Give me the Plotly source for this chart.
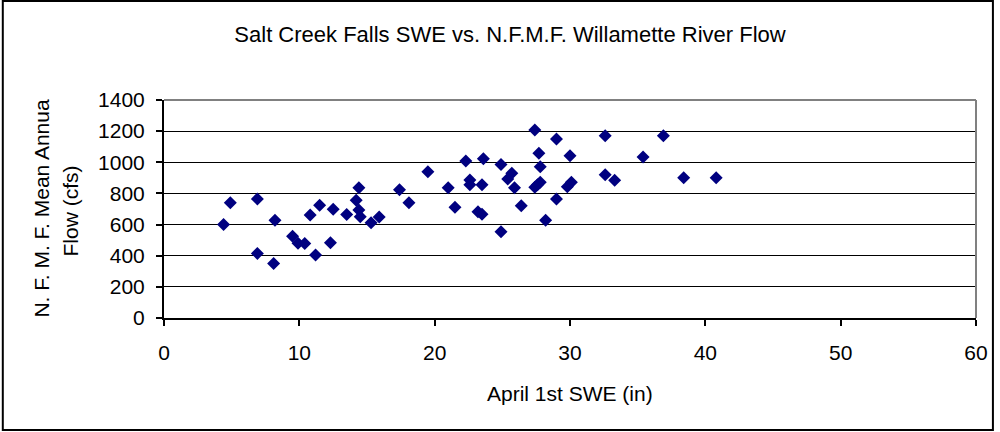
import plotly.graph_objects as go

# April 1st SWE (in) at Salt Creek Falls
swe = [4.4, 4.9, 6.9, 6.9, 8.2, 8.1, 9.5, 9.9, 10.4, 10.8, 11.2, 11.5, 12.3, 12.5,
       13.5, 14.2, 14.4, 14.4, 14.5, 15.3, 15.9, 17.4, 18.1, 19.5, 21.0, 21.5,
       22.3, 22.6, 22.6, 23.5, 23.6, 23.2, 23.5, 24.9, 24.9, 25.7, 25.4, 25.9,
       26.4, 27.4, 27.7, 27.8, 27.4, 27.8, 27.6, 28.2, 29.0, 29.0, 30.0, 29.8,
       30.1, 32.6, 32.6, 33.3, 35.4, 36.9, 38.4, 40.8]
# N.F.M.F. mean annual flow (cfs)
flow = [600, 740, 765, 415, 627, 350, 525, 480, 478, 662, 405, 724, 484, 698,
        664, 756, 837, 694, 650, 612, 648, 824, 740, 940, 837, 711,
        1008, 886, 856, 856, 1022, 683, 666, 985, 554, 930, 893, 837,
        721, 1207, 1058, 972, 839, 871, 855, 627, 1150, 764, 1042, 843,
        871, 1170, 920, 884, 1034, 1170, 901, 901]

x_ticks = [0, 10, 20, 30, 40, 50, 60]
y_ticks = [0, 200, 400, 600, 800, 1000, 1200, 1400]

W, H = 1000, 432
L, R, T, B = 164, 980, 100, 318
pw, ph = R - L, B - T


def px(x):
    return (x - L) / pw


def py(y):
    return (B - y) / ph


font = "Liberation Sans, Arial, sans-serif"

fig = go.Figure(go.Scatter(
    x=swe, y=flow, mode="markers",
    marker=dict(symbol="diamond", size=10, color="#000080",
                line=dict(width=0)),
    cliponaxis=False,
))

fig.update_layout(
    width=W, height=H,
    margin=dict(l=L, r=W - R, t=T, b=H - B),
    paper_bgcolor="white", plot_bgcolor="white",
    font=dict(family=font, size=21, color="black"),
    showlegend=False,
    title=dict(text="Salt Creek Falls SWE vs. N.F.M.F. Willamette River Flow",
               x=0.51, xanchor="center", y=1 - 34 / H, yanchor="middle",
               font=dict(size=22)),
)

fig.update_xaxes(range=[0, 60], tickvals=x_ticks, showgrid=False, zeroline=False,
                 showline=True, linecolor="black", linewidth=2,
                 ticks="outside", ticklen=6, tickwidth=2, tickcolor="black",
                 ticklabelstandoff=9)
fig.update_yaxes(range=[0, 1400], tickvals=y_ticks, showgrid=True, gridcolor="black",
                 gridwidth=1, zeroline=False,
                 showline=True, linecolor="black", linewidth=2,
                 ticks="outside", ticklen=6, tickwidth=2, tickcolor="black",
                 ticklabelstandoff=7)

# gray plot-area border (top and right)
fig.add_shape(type="line", xref="paper", yref="paper", x0=0, x1=1, y0=1, y1=1,
              line=dict(color="#808080", width=2), layer="above")
fig.add_shape(type="line", xref="paper", yref="paper", x0=1, x1=1, y0=0, y1=1,
              line=dict(color="#808080", width=2), layer="above")
# outer chart border
fig.add_shape(type="rect", xref="paper", yref="paper",
              x0=px(2), x1=px(997), y0=py(1), y1=py(430),
              line=dict(color="black", width=2), layer="above")

fig.add_annotation(text="April 1st SWE (in)", xref="paper", yref="paper",
                   x=px(572), y=py(393), showarrow=False,
                   xanchor="center", yanchor="middle")
fig.add_annotation(text="N. F. M. F. Mean Annua", xref="paper", yref="paper",
                   x=px(40), y=py(208), showarrow=False, textangle=-90,
                   xanchor="center", yanchor="middle")
fig.add_annotation(text="Flow (cfs)", xref="paper", yref="paper",
                   x=px(70), y=py(211), showarrow=False, textangle=-90,
                   xanchor="center", yanchor="middle")

# drop the page's default body margin so the figure sits at the window origin
fig.write_html("out.html",
               config={"displayModeBar": False},
               post_script="document.body.style.margin='0';"
                           "document.body.style.overflow='hidden';")
